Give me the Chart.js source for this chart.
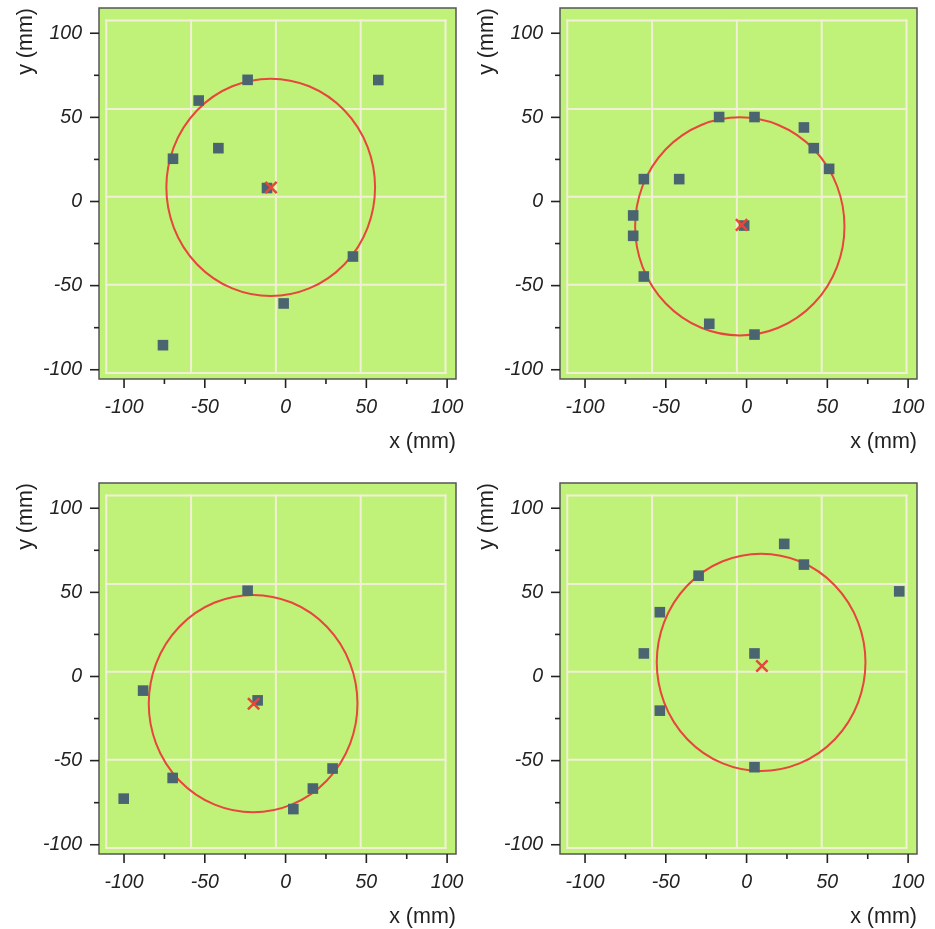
<!DOCTYPE html>
<html><head><meta charset="utf-8">
<script src="https://cdn.jsdelivr.net/npm/chart.js@4.4.1/dist/chart.umd.min.js"></script>
<style>
html,body{margin:0;padding:0;background:#fff;overflow:hidden;width:935px;height:929px;position:relative}
.p{position:absolute;width:480px;height:475px}
canvas{display:block}
</style></head><body>
<div class="p" style="left:0;top:0"><canvas id="c0" width="480" height="475"></canvas></div>
<div class="p" style="left:461px;top:0"><canvas id="c1" width="480" height="475"></canvas></div>
<div class="p" style="left:0;top:475px"><canvas id="c2" width="480" height="475"></canvas></div>
<div class="p" style="left:461px;top:475px"><canvas id="c3" width="480" height="475"></canvas></div>
<script>
// ---- data ----
const xTicks = [-100, -50, 0, 50, 100];
const yTicks = [-100, -50, 0, 50, 100];
const minorTicks = [-75, -25, 25, 75];
const gridX = [-111, -58.5, -6, 46.5, 99];
const gridY = [-102, -49.5, 2.75, 55, 107.5];

const ptsX1 = [-23.5, -53.8, -41.6, -69.7, 57.4, -11.5, 41.7, -1.2, -75.9];
const ptsY1 = [72.3, 60.0, 31.7, 25.4, 72.2, 8.0, -32.7, -60.6, -85.4];
const ptsX2 = [-17.0, 4.9, 35.5, 41.6, 51.1, -63.6, -41.7, -70.2, -70.2, -63.6, -23.1, 4.9, -1.5];
const ptsY2 = [50.2, 50.2, 44.0, 31.7, 19.4, 13.3, 13.3, -8.3, -20.4, -44.6, -72.7, -79.1, -14.3];
const ptsX3 = [-23.5, -88.2, -17.3, -69.9, -100.2, 29.1, 16.9, 4.8];
const ptsY3 = [51.0, -8.4, -14.2, -60.3, -72.6, -54.7, -66.6, -78.8];
const ptsX4 = [23.3, 35.5, -29.7, 94.5, -53.7, -63.6, 4.9, -53.7, 4.9];
const ptsY4 = [78.8, 66.5, 59.9, 50.6, 38.2, 13.7, 13.7, -20.3, -53.9];

const centerX = [-9.0, -3.1, -19.8, 9.5];
const centerY = [8.3, -13.9, -16.2, 6.2];
const circleX = [-9.2, -4.2, -20.1, 9.0];
const circleY = [8.4, -14.8, -16.1, 8.4];
const circleR = [64.6, 64.8, 64.6, 64.6];

const allX = [ptsX1, ptsX2, ptsX3, ptsX4];
const allY = [ptsY1, ptsY2, ptsY3, ptsY4];

// ---- styles ----
const BG = '#c0f27a';
const GRID = '#f1efd6';
const RED = '#e8453c';
const SQ = '#4a6470';
const INK = '#222222';
const FONT = "'Liberation Sans', Arial, Helvetica, sans-serif";
Chart.defaults.font.family = FONT;

const decor = {
  id: 'decor',
  beforeDraw(chart) {
    const {ctx, chartArea: a} = chart;
    ctx.save();
    ctx.fillStyle = BG;
    ctx.fillRect(a.left, a.top, a.right - a.left, a.bottom - a.top);
    ctx.restore();
  },
  beforeDatasetsDraw(chart, args, opts) {
    const {ctx, chartArea: a} = chart;
    const xs = chart.scales.x, ys = chart.scales.y;
    ctx.save();
    ctx.beginPath();
    ctx.rect(a.left, a.top, a.right - a.left, a.bottom - a.top);
    ctx.clip();
    // grid frame
    ctx.strokeStyle = GRID;
    ctx.lineWidth = 2;
    ctx.lineCap = 'square';
    const y0 = ys.getPixelForValue(gridY[0]), y1 = ys.getPixelForValue(gridY[gridY.length - 1]);
    const x0 = xs.getPixelForValue(gridX[0]), x1 = xs.getPixelForValue(gridX[gridX.length - 1]);
    gridX.forEach(v => {
      const p = xs.getPixelForValue(v);
      ctx.beginPath(); ctx.moveTo(p, y0); ctx.lineTo(p, y1); ctx.stroke();
    });
    gridY.forEach(v => {
      const p = ys.getPixelForValue(v);
      ctx.beginPath(); ctx.moveTo(x0, p); ctx.lineTo(x1, p); ctx.stroke();
    });
    // fitted circle
    const i = opts.idx;
    const cx = xs.getPixelForValue(circleX[i]);
    const cy = ys.getPixelForValue(circleY[i]);
    const rx = Math.abs(xs.getPixelForValue(circleX[i] + circleR[i]) - cx);
    const ry = Math.abs(ys.getPixelForValue(circleY[i] + circleR[i]) - cy);
    ctx.strokeStyle = RED;
    ctx.lineWidth = 2;
    ctx.beginPath();
    ctx.ellipse(cx, cy, rx, ry, 0, 0, Math.PI * 2);
    ctx.stroke();
    ctx.restore();
  },
  afterDraw(chart) {
    const {ctx, chartArea: a} = chart;
    const xs = chart.scales.x, ys = chart.scales.y;
    ctx.save();
    ctx.strokeStyle = '#555';
    ctx.lineWidth = 1.5;
    ctx.strokeRect(a.left, a.top, a.right - a.left, a.bottom - a.top);
    ctx.strokeStyle = '#222';
    ctx.lineWidth = 1.6;
    const tick = (vals, len) => {
      vals.forEach(v => {
        const px = xs.getPixelForValue(v);
        ctx.beginPath(); ctx.moveTo(px, a.bottom); ctx.lineTo(px, a.bottom + len); ctx.stroke();
        const py = ys.getPixelForValue(v);
        ctx.beginPath(); ctx.moveTo(a.left, py); ctx.lineTo(a.left - len, py); ctx.stroke();
      });
    };
    tick(xTicks, 9);
    tick(minorTicks, 5);
    ctx.restore();
  }
};

function makeChart(i) {
  const pts = allX[i].map((x, k) => ({x, y: allY[i][k]}));
  return new Chart(document.getElementById('c' + i), {
    type: 'scatter',
    data: {
      datasets: [
        {
          data: [{x: centerX[i], y: centerY[i]}],
          pointStyle: 'crossRot', pointRadius: 8, pointHoverRadius: 8,
          borderColor: RED, pointBorderWidth: 2.5, backgroundColor: RED, order: 0
        },
        {
          data: pts,
          pointStyle: 'rect', pointRadius: 7.5, pointHoverRadius: 7.5,
          backgroundColor: SQ, borderColor: SQ, pointBorderWidth: 0, order: 1
        }
      ]
    },
    options: {
      responsive: false, animation: false, events: [],
      devicePixelRatio: 1,
      layout: {autoPadding: false, padding: {top: 8, right: 24, left: 0, bottom: 0}},
      plugins: {legend: {display: false}, tooltip: {enabled: false}, decor: {idx: i}},
      scales: {
        x: {
          type: 'linear', position: 'bottom', min: -115.5, max: 105.5,
          afterBuildTicks: s => { s.ticks = xTicks.map(v => ({value: v})); },
          afterFit: s => { s.height = 96; s.paddingLeft = 0; s.paddingRight = 0; },
          grid: {display: false, drawTicks: false}, border: {display: false},
          ticks: {padding: 17, color: INK, maxRotation: 0, autoSkip: false,
                  font: {size: 19.5, style: 'italic'}, callback: v => String(v)},
          title: {display: true, text: 'x (mm)', align: 'end', color: INK,
                  font: {size: 21.5}, padding: {top: 0, bottom: 20}}
        },
        y: {
          type: 'linear', position: 'left', min: -105.5, max: 115,
          afterBuildTicks: s => { s.ticks = yTicks.map(v => ({value: v})); },
          afterFit: s => { s.width = 99; s.paddingTop = 0; s.paddingBottom = 0; },
          grid: {display: false, drawTicks: false}, border: {display: false},
          ticks: {padding: 17, color: INK, autoSkip: false,
                  font: {size: 19.5, style: 'italic'}, callback: v => String(v)},
          title: {display: true, text: 'y (mm)', align: 'end', color: INK,
                  font: {size: 21.5}, padding: {top: 13, bottom: 0}}
        }
      }
    },
    plugins: [decor]
  });
}
[0, 1, 2, 3].forEach(makeChart);
</script>
</body></html>
